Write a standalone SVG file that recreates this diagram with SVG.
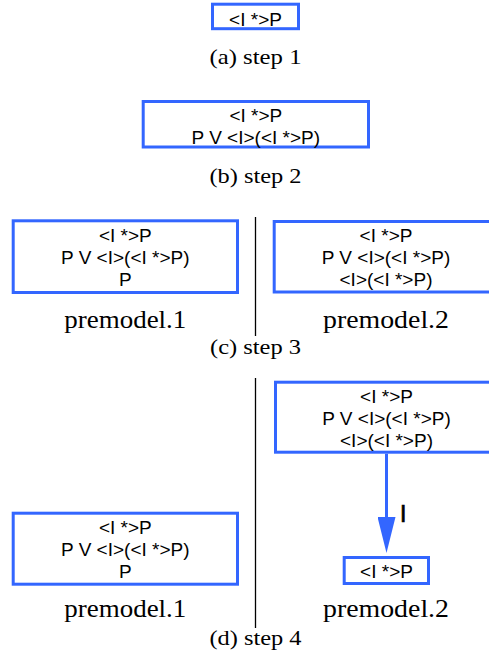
<svg xmlns="http://www.w3.org/2000/svg" width="489" height="657" viewBox="0 0 489 657">
<style>
.box{fill:#fff;stroke:#3366ff;stroke-width:3}
.t{font-family:"Liberation Sans",Arial,sans-serif;font-size:19px;fill:#000;text-anchor:middle}
.cap{font-family:"Liberation Serif","Times New Roman",serif;font-size:21px;fill:#000;text-anchor:middle}
.lbl{font-family:"Liberation Serif","Times New Roman",serif;font-size:26px;fill:#000;text-anchor:middle}
.sep{stroke:#000;stroke-width:1.3}
.edge{stroke:#3366ff;stroke-width:3;fill:none}
.elbl{font-family:"Liberation Sans",Arial,sans-serif;font-size:23px;fill:#000;stroke:#000;stroke-width:0.7}
</style>
<defs>
<marker id="ah" markerWidth="36" markerHeight="18" refX="23" refY="9" orient="auto" markerUnits="userSpaceOnUse" viewBox="0 0 36 18">
<path d="M0,0 L36,9 L0,18 Z" fill="#3366ff"/>
</marker>
</defs>
<g id="captions">
<text class="cap" x="255.5" y="64.3" textLength="92" lengthAdjust="spacingAndGlyphs">(a) step 1</text>
<text class="cap" x="255.5" y="182.5" textLength="92" lengthAdjust="spacingAndGlyphs">(b) step 2</text>
<text class="cap" x="255.5" y="353.5" textLength="91" lengthAdjust="spacingAndGlyphs">(c) step 3</text>
<text class="cap" x="255.5" y="645" textLength="92" lengthAdjust="spacingAndGlyphs">(d) step 4</text>
<text class="lbl" x="125.3" y="328.3" textLength="122" lengthAdjust="spacingAndGlyphs">premodel.1</text>
<text class="lbl" x="386" y="328.3" textLength="126" lengthAdjust="spacingAndGlyphs">premodel.2</text>
<text class="lbl" x="125.3" y="617" textLength="122" lengthAdjust="spacingAndGlyphs">premodel.1</text>
<text class="lbl" x="386" y="617" textLength="126" lengthAdjust="spacingAndGlyphs">premodel.2</text>
</g>
<g id="separators">
<line class="sep" x1="255.5" y1="217" x2="255.5" y2="336"/>
<line class="sep" x1="255.5" y1="378" x2="255.5" y2="628"/>
</g>
<g id="a1">
<rect class="box" x="212.5" y="4.2" width="86" height="24.5"/>
<text class="t" x="255.5" y="25.5">&lt;I *&gt;P</text>
</g>
<g id="b1">
<rect class="box" x="143.2" y="101.5" width="225.3" height="45.5"/>
<text class="t" x="255.8" y="121.5">&lt;I *&gt;P</text>
<text class="t" x="255.8" y="143.5">P V &lt;I&gt;(&lt;I *&gt;P)</text>
</g>
<g id="c1">
<rect class="box" x="13.2" y="220.8" width="224.3" height="71.7"/>
<text class="t" x="125.3" y="241.5">&lt;I *&gt;P</text>
<text class="t" x="125.3" y="263.5">P V &lt;I&gt;(&lt;I *&gt;P)</text>
<text class="t" x="125.3" y="285.5">P</text>
</g>
<g id="c2">
<rect class="box" x="274.2" y="221.5" width="225" height="70.5"/>
<text class="t" x="386" y="242">&lt;I *&gt;P</text>
<text class="t" x="386" y="264">P V &lt;I&gt;(&lt;I *&gt;P)</text>
<text class="t" x="386" y="286">&lt;I&gt;(&lt;I *&gt;P)</text>
</g>
<g id="d1">
<rect class="box" x="13.2" y="513.2" width="224.3" height="71"/>
<text class="t" x="125.3" y="534">&lt;I *&gt;P</text>
<text class="t" x="125.3" y="556">P V &lt;I&gt;(&lt;I *&gt;P)</text>
<text class="t" x="125.3" y="578">P</text>
</g>
<g id="d2">
<rect class="box" x="275.5" y="382.2" width="224" height="70"/>
<text class="t" x="386.5" y="403">&lt;I *&gt;P</text>
<text class="t" x="386.5" y="425">P V &lt;I&gt;(&lt;I *&gt;P)</text>
<text class="t" x="386.5" y="447">&lt;I&gt;(&lt;I *&gt;P)</text>
</g>
<g id="d3">
<rect class="box" x="344.2" y="557.5" width="84.3" height="26"/>
<text class="t" x="386.5" y="578">&lt;I *&gt;P</text>
</g>
<g id="connectors">
<line class="edge" x1="386.5" y1="453.7" x2="386.5" y2="540" marker-end="url(#ah)"/>
<text class="elbl" x="400" y="522">I</text>
</g>
</svg>
